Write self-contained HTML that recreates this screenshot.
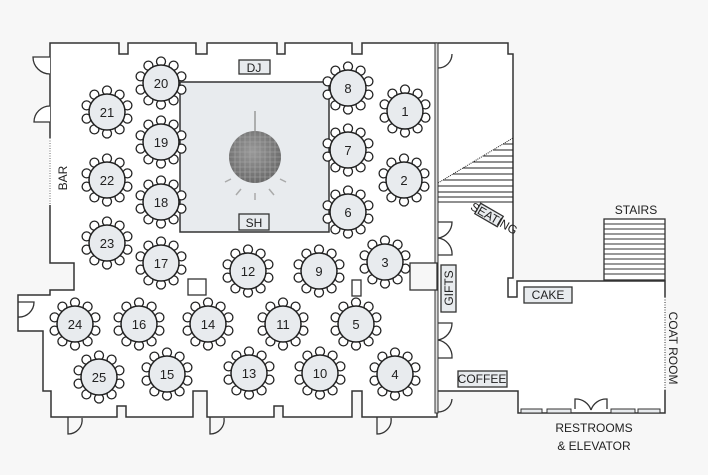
<!DOCTYPE html>
<html><head><meta charset="utf-8"><style>
html,body{margin:0;padding:0;background:#f7f7f7;}
svg{display:block;}
text{font-family:"Liberation Sans",sans-serif;fill:#222;}
</style></head><body>
<svg width="708" height="475" viewBox="0 0 708 475" xmlns="http://www.w3.org/2000/svg">
<defs>
<g id="t">
<g fill="#fff" stroke="#222" stroke-width="1.3">
<circle cx="0" cy="-21.5" r="4.5"/><circle cx="12.6" cy="-17.4" r="4.5"/><circle cx="20.4" cy="-6.6" r="4.5"/><circle cx="20.4" cy="6.6" r="4.5"/><circle cx="12.6" cy="17.4" r="4.5"/><circle cx="0" cy="21.5" r="4.5"/><circle cx="-12.6" cy="17.4" r="4.5"/><circle cx="-20.4" cy="6.6" r="4.5"/><circle cx="-20.4" cy="-6.6" r="4.5"/><circle cx="-12.6" cy="-17.4" r="4.5"/>
</g>
<circle r="18" fill="#e8ebee" stroke="#222" stroke-width="1.5"/>
</g>
<radialGradient id="ball" cx="0.45" cy="0.4" r="0.6"><stop offset="0" stop-color="#999"/><stop offset="1" stop-color="#6a6a6a"/></radialGradient>
<clipPath id="bc"><circle cx="255" cy="157" r="26"/></clipPath>
</defs>
<rect width="708" height="475" fill="#f7f7f7"/>
<path d="M438,43 H508 V54 H513 V281 H665 V413 H518 V391 H438 Z" fill="#fff"/>
<g fill="none" stroke="#333" stroke-width="1.5">
<path d="M438,43 H508 V54 H513 V278 H508 V297 H517 V281 H665 V297"/>
<path d="M665,390 V413 H518 V391 H438"/>
<line x1="665" y1="297" x2="665" y2="390" stroke-dasharray="1,1.5" stroke-width="1"/>
</g>
<path d="M50,43 H119 V54 H128 V43 H196 V54 H207 V43 H277 V54 H285 V43 H352 V54 H362 V43 H437 V417 H362 V391 H352 V417 H283 V406 H274 V417 H207 V391 H193 V417 H126 V406 H117 V417 H51 V391 H43 V331 H18 V295 H50 V290 H74 V263 H50 Z" fill="#fff" stroke="#333" stroke-width="1.5"/>
<line x1="50" y1="138" x2="50" y2="205" stroke="#fff" stroke-width="2"/>
<line x1="50" y1="138" x2="50" y2="205" stroke="#666" stroke-width="1" stroke-dasharray="1,1.5"/>
<rect x="435" y="43" width="3" height="370" fill="#ddd" stroke="#333" stroke-width="1"/>
<g fill="none" stroke="#333" stroke-width="1.3">
<path d="M50,57 H33 A17,17 0 0 0 50,74" fill="#fff"/>
<path d="M50,106 A16,16 0 0 0 34,122 H50" fill="#fff"/>
<path d="M18,302 H34 A15,15 0 0 1 18,317"/>
<path d="M68,417 V434 A14,14 0 0 0 82,418"/>
<path d="M210,417 V434 A14,14 0 0 0 224,418"/>
<path d="M377,417 V434 A14,14 0 0 0 391,418"/>
<path d="M452,54 A14,14 0 0 1 438,68"/>
<path d="M438,222 H452 A16,16 0 0 1 438,238 A16,16 0 0 1 452,255 H438"/>
<path d="M438,323 H452 A17,17 0 0 1 438,340 A17,17 0 0 1 452,358 H438"/>
<path d="M452,399 A14,14 0 0 1 438,412"/>
<path d="M575,409 V399 A16,16 0 0 1 591,410 M607,409 V399 A16,16 0 0 0 591,410"/>
</g>
<g fill="#e8ebee" stroke="#333" stroke-width="1">
<rect x="521" y="409" width="21" height="4"/><rect x="547" y="409" width="24" height="4"/><rect x="611" y="409" width="24" height="4"/><rect x="638" y="409" width="22" height="4"/>
</g>
<g stroke="#222" stroke-width="1">
<line x1="438" y1="183" x2="513" y2="138" stroke-dasharray="1,1"/>
<line x1="503" y1="144" x2="513" y2="144"/><line x1="493" y1="150" x2="513" y2="150"/><line x1="483" y1="156" x2="513" y2="156"/><line x1="473" y1="162" x2="513" y2="162"/><line x1="463" y1="168" x2="513" y2="168"/><line x1="453" y1="174" x2="513" y2="174"/><line x1="443" y1="180" x2="513" y2="180"/><line x1="438" y1="186" x2="513" y2="186"/><line x1="438" y1="192" x2="513" y2="192"/><line x1="438" y1="197" x2="513" y2="197"/><line x1="438" y1="202" x2="513" y2="202"/>
</g>
<rect x="604" y="219" width="61" height="61" fill="#fff" stroke="#333" stroke-width="1.3"/>
<g stroke="#333" stroke-width="1">
<line x1="604" y1="224" x2="665" y2="224"/><line x1="604" y1="229" x2="665" y2="229"/><line x1="604" y1="234" x2="665" y2="234"/><line x1="604" y1="239" x2="665" y2="239"/><line x1="604" y1="244" x2="665" y2="244"/><line x1="604" y1="249" x2="665" y2="249"/><line x1="604" y1="254" x2="665" y2="254"/><line x1="604" y1="259" x2="665" y2="259"/><line x1="604" y1="264" x2="665" y2="264"/><line x1="604" y1="269" x2="665" y2="269"/><line x1="604" y1="274" x2="665" y2="274"/>
</g>
<text x="636" y="214" font-size="12" text-anchor="middle">STAIRS</text>
<rect x="180" y="82" width="149" height="150" fill="#e8ebee" stroke="#333" stroke-width="1.5"/>
<line x1="255" y1="111" x2="255" y2="132" stroke="#999" stroke-width="1.5"/>
<circle cx="255" cy="157" r="26" fill="url(#ball)"/>
<g clip-path="url(#bc)" stroke="#aaa" stroke-width="0.6">
<line x1="229" y1="137" x2="281" y2="137"/><line x1="229" y1="142" x2="281" y2="142"/><line x1="229" y1="147" x2="281" y2="147"/><line x1="229" y1="152" x2="281" y2="152"/><line x1="229" y1="157" x2="281" y2="157"/><line x1="229" y1="162" x2="281" y2="162"/><line x1="229" y1="167" x2="281" y2="167"/><line x1="229" y1="172" x2="281" y2="172"/><line x1="229" y1="177" x2="281" y2="177"/>
<line x1="235" y1="131" x2="235" y2="183"/><line x1="240" y1="131" x2="240" y2="183"/><line x1="245" y1="131" x2="245" y2="183"/><line x1="250" y1="131" x2="250" y2="183"/><line x1="255" y1="131" x2="255" y2="183"/><line x1="260" y1="131" x2="260" y2="183"/><line x1="265" y1="131" x2="265" y2="183"/><line x1="270" y1="131" x2="270" y2="183"/><line x1="275" y1="131" x2="275" y2="183"/>
</g>
<g stroke="#aaa" stroke-width="1.5">
<line x1="225" y1="182" x2="231" y2="179"/><line x1="236" y1="195" x2="241" y2="189"/><line x1="255" y1="200" x2="255" y2="193"/><line x1="274" y1="195" x2="269" y2="189"/><line x1="286" y1="182" x2="280" y2="179"/>
</g>
<g fill="#e8ebee" stroke="#333" stroke-width="1.3">
<rect x="239" y="60" width="31" height="14"/><rect x="239" y="214" width="30" height="16"/>
<rect x="188" y="279" width="18" height="16" fill="#fff"/><rect x="352" y="280" width="9" height="16" fill="#fff"/>
<rect x="410" y="263" width="27" height="27" fill="#f7f7f7"/>
<rect x="441" y="265" width="15" height="47"/>
<rect x="458" y="371" width="49" height="16"/>
<rect x="524" y="287" width="48" height="16"/>
<rect x="476" y="209" width="26" height="12" transform="rotate(30 489 215)"/>
</g>
<text x="254" y="72" font-size="12" text-anchor="middle">DJ</text>
<text x="254" y="227" font-size="12" text-anchor="middle">SH</text>
<text x="548" y="299" font-size="12" text-anchor="middle">CAKE</text>
<text x="482" y="383" font-size="12" text-anchor="middle">COFFEE</text>
<text font-size="12" text-anchor="middle" transform="translate(453 288) rotate(-90)">GIFTS</text>
<text font-size="12" text-anchor="middle" transform="translate(67 178) rotate(-90)">BAR</text>
<text font-size="12" text-anchor="middle" transform="translate(669 348) rotate(90)">COAT ROOM</text>
<text font-size="12" text-anchor="middle" transform="translate(492 222) rotate(30)">SEATING</text>
<text x="594" y="432" font-size="12" text-anchor="middle">RESTROOMS</text>
<text x="594" y="450" font-size="12" text-anchor="middle">&amp; ELEVATOR</text>
<g font-size="13" text-anchor="middle">
<use href="#t" x="161" y="83"/><text x="161" y="88">20</text>
<use href="#t" x="107" y="112"/><text x="107" y="117">21</text>
<use href="#t" x="161" y="142"/><text x="161" y="147">19</text>
<use href="#t" x="107" y="180"/><text x="107" y="185">22</text>
<use href="#t" x="161" y="202"/><text x="161" y="207">18</text>
<use href="#t" x="107" y="243"/><text x="107" y="248">23</text>
<use href="#t" x="161" y="263"/><text x="161" y="268">17</text>
<use href="#t" x="75" y="324"/><text x="75" y="329">24</text>
<use href="#t" x="139" y="324"/><text x="139" y="329">16</text>
<use href="#t" x="208" y="324"/><text x="208" y="329">14</text>
<use href="#t" x="99" y="377"/><text x="99" y="382">25</text>
<use href="#t" x="167" y="374"/><text x="167" y="379">15</text>
<use href="#t" x="248" y="271"/><text x="248" y="276">12</text>
<use href="#t" x="319" y="271"/><text x="319" y="276">9</text>
<use href="#t" x="385" y="262"/><text x="385" y="267">3</text>
<use href="#t" x="283" y="324"/><text x="283" y="329">11</text>
<use href="#t" x="356" y="324"/><text x="356" y="329">5</text>
<use href="#t" x="249" y="373"/><text x="249" y="378">13</text>
<use href="#t" x="320" y="373"/><text x="320" y="378">10</text>
<use href="#t" x="395" y="374"/><text x="395" y="379">4</text>
<use href="#t" x="348" y="88"/><text x="348" y="93">8</text>
<use href="#t" x="348" y="150"/><text x="348" y="155">7</text>
<use href="#t" x="348" y="212"/><text x="348" y="217">6</text>
<use href="#t" x="405" y="111"/><text x="405" y="116">1</text>
<use href="#t" x="404" y="180"/><text x="404" y="185">2</text>
</g>
</svg>
</body></html>
